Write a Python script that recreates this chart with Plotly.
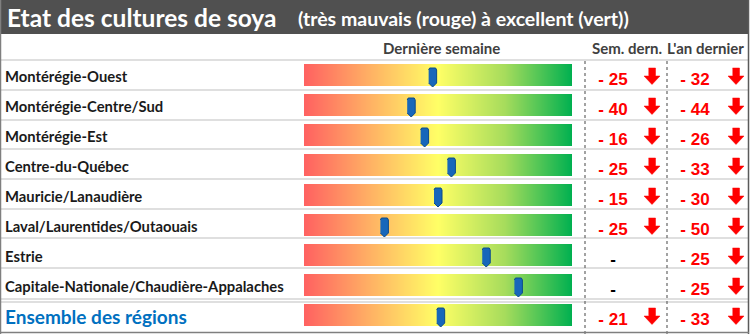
import plotly.graph_objects as go

# ---- data -------------------------------------------------------------
regions = [
    "Montérégie-Ouest",
    "Montérégie-Centre/Sud",
    "Montérégie-Est",
    "Centre-du-Québec",
    "Mauricie/Lanaudière",
    "Laval/Laurentides/Outaouais",
    "Estrie",
    "Capitale-Nationale/Chaudière-Appalaches",
    "Ensemble des régions",
]
# crop condition index for the last week (0 = very bad, 100 = excellent)
derniere_semaine = [48, 40, 45, 55, 50, 30, 68, 80, 51]
# change versus last week and versus last year
sem_dern = [-25, -40, -16, -25, -15, -25, None, None, -21]
an_dernier = [-32, -44, -26, -33, -30, -50, -25, -25, -33]

title_main = "Etat des cultures de soya"
title_sub = "(très mauvais (rouge) à excellent (vert))"
col_headers = ["Dernière semaine", "Sem. dern.", "L'an dernier"]

# ---- geometry (pixel frame 750 x 334) ---------------------------------
W, H = 750, 334
ROW0, PITCH = 75, 30          # centre of first row, row pitch
BAR_X0, BAR_X1 = 304, 572     # gradient gauge extent
COL1_TXT, COL1_ARR = 613, 652
COL2_TXT, COL2_ARR = 695, 736
n = len(regions)
rows = list(range(n))
px = 1.0 / PITCH               # one pixel in row units
gauge_px = 100.0 / (BAR_X1 - BAR_X0)

fig = go.Figure()

# gradient gauges (one heatmap row per region)
ncol = 268
dx = 100.0 / ncol
xs = [dx / 2 + i * dx for i in range(ncol)]
fig.add_trace(go.Heatmap(
    x=xs, y=rows, z=[xs for _ in rows],
    zmin=0, zmax=100,
    colorscale=[[0.0, "#FF6161"], [0.25, "#FFB264"], [0.5, "#FFFF66"],
                [0.75, "#A6DC5C"], [1.0, "#00B050"]],
    showscale=False, ygap=8, hoverinfo="skip",
    xaxis="x2", yaxis="y",
))

# needle markers on the gauges
mx, my = [], []
shape = [(-4, -5), (-3, -7), (3, -7), (4, -5), (4, 8), (0, 12), (-4, 8)]
for r, v in zip(rows, derniere_semaine):
    for sx, sy in shape:
        mx.append(v + sx * gauge_px)
        my.append(r + sy * px)
    mx.append(None)
    my.append(None)
fig.add_trace(go.Scatter(
    x=mx, y=my, mode="lines", fill="toself",
    fillcolor="#1767BA", line=dict(color="#0C4B8C", width=1),
    hoverinfo="skip", xaxis="x2", yaxis="y",
))

# region names
fig.add_trace(go.Scatter(
    x=[5] * (n - 1), y=[r + 3 * px for r in rows[:-1]],
    text=[f"<b>{t}</b>" for t in regions[:-1]],
    mode="text", textposition="middle right",
    textfont=dict(family="Lato", size=14.8, color="#1A1A1A"),
    hoverinfo="skip", xaxis="x", yaxis="y",
))
fig.add_trace(go.Scatter(
    x=[5], y=[rows[-1] + 4 * px],
    text=[f"<b>{regions[-1]}</b>"],
    mode="text", textposition="middle right",
    textfont=dict(family="Lato", size=19, color="#0070C0"),
    hoverinfo="skip", xaxis="x", yaxis="y",
))


def fmt(v):
    return "<b>-</b>" if v is None else f"<b>- {abs(v)}</b>"


def add_column(values, tx, ax):
    fig.add_trace(go.Scatter(
        x=[tx] * n, y=[r + 6 * px for r in rows],
        text=[fmt(v) for v in values],
        mode="text", textposition="middle center",
        textfont=dict(family="Liberation Sans", size=17,
                      color=["#000000" if v is None else "#FF0000" for v in values]),
        hoverinfo="skip", xaxis="x", yaxis="y",
    ))
    arrow = [(-3.5, -8), (3.5, -8), (3.5, 0), (8, 0), (0, 8.5), (-8, 0), (-3.5, 0)]
    axs, ays = [], []
    for r, v in zip(rows, values):
        if v is not None and v < 0:
            for sx, sy in arrow:
                axs.append(ax + sx)
                ays.append(r + (sy + 1) * px)
            axs.append(None)
            ays.append(None)
    fig.add_trace(go.Scatter(
        x=axs, y=ays, mode="lines", fill="toself",
        fillcolor="#FF0000", line=dict(color="#FF0000", width=0.5),
        hoverinfo="skip", xaxis="x", yaxis="y",
    ))


add_column(sem_dern, COL1_TXT, COL1_ARR)
add_column(an_dernier, COL2_TXT, COL2_ARR)

# ---- frame, bands and separators --------------------------------------
shapes = [
    dict(type="rect", xref="x", yref="paper", x0=0, x1=749, y0=1 - 34 / H, y1=1,
         fillcolor="#505050", line_width=0, layer="below"),
]
for yb in [60, 90, 120, 149, 179, 209, 238, 268, 299, 302]:
    shapes.append(dict(type="line", xref="x", yref="paper", x0=1, x1=748,
                       y0=1 - yb / H, y1=1 - yb / H,
                       line=dict(color="#D4D4D4", width=1.3)))
for xv in [585, 667]:
    shapes.append(dict(type="line", xref="x", yref="paper", x0=xv, x1=xv,
                       y0=1 - 61 / H, y1=0,
                       line=dict(color="#666666", width=1.2, dash="dot")))
shapes += [
    dict(type="line", xref="x", yref="paper", x0=0.6, x1=0.6, y0=0, y1=1,
         line=dict(color="#7F7F7F", width=1.3)),
    dict(type="line", xref="x", yref="paper", x0=748.5, x1=748.5, y0=0, y1=1,
         line=dict(color="#5A5A5A", width=1.5)),
    dict(type="line", xref="x", yref="paper", x0=0, x1=749, y0=1 - 332.5 / H,
         y1=1 - 332.5 / H, line=dict(color="#7F7F7F", width=1.3)),
]

hdr_font = dict(family="Lato", size=15, color="#404040")
annotations = [
    dict(text=f"<b>{title_main}</b>", x=5, y=1 - 18 / H, xref="x", yref="paper",
         xanchor="left", yanchor="middle", showarrow=False,
         font=dict(family="Lato", size=24.5, color="#FFFFFF")),
    dict(text=f"<b>{title_sub}</b>", x=296, y=1 - 19 / H, xref="x", yref="paper",
         xanchor="left", yanchor="middle", showarrow=False,
         font=dict(family="Lato", size=19.5, color="#FFFFFF")),
    dict(text=f"<b>{col_headers[0]}</b>", x=441, y=1 - 48 / H, xref="x", yref="paper",
         xanchor="center", yanchor="middle", showarrow=False, font=hdr_font),
    dict(text=f"<b>{col_headers[1]}</b>", x=626.5, y=1 - 48 / H, xref="x", yref="paper",
         xanchor="center", yanchor="middle", showarrow=False, font=hdr_font),
    dict(text=f"<b>{col_headers[2]}</b>", x=705, y=1 - 48 / H, xref="x", yref="paper",
         xanchor="center", yanchor="middle", showarrow=False, font=hdr_font),
]

axis_off = dict(showgrid=False, zeroline=False, showticklabels=False,
                ticks="", showline=False, fixedrange=True)
fig.update_layout(
    width=W, height=H, margin=dict(l=0, r=0, t=0, b=0),
    paper_bgcolor="white", plot_bgcolor="rgba(0,0,0,0)",
    showlegend=False,
    xaxis=dict(range=[0, W], domain=[0, 1], **axis_off),
    xaxis2=dict(range=[0, 100], domain=[BAR_X0 / W, BAR_X1 / W],
                anchor="y", **axis_off),
    yaxis=dict(range=[(H - ROW0) / PITCH, -ROW0 / PITCH], domain=[0, 1], **axis_off),
    shapes=shapes, annotations=annotations,
)

fig.write_html("out.html")
